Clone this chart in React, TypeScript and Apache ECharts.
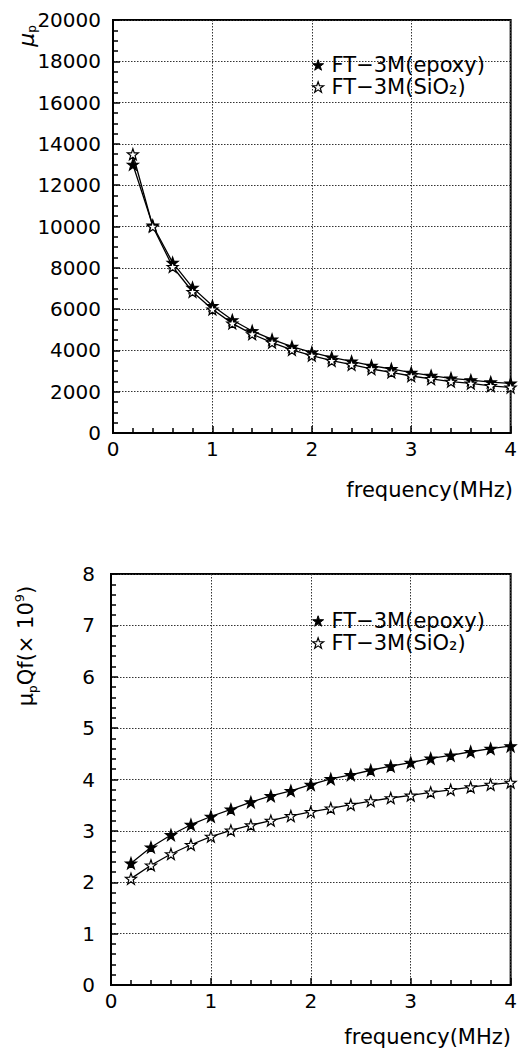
import React, { useEffect, useRef } from "react";
import * as echarts from "echarts";

const freq = [0.2, 0.4, 0.6, 0.8, 1.0, 1.2, 1.4, 1.6, 1.8, 2.0, 2.2, 2.4, 2.6, 2.8, 3.0, 3.2, 3.4, 3.6, 3.8, 4.0];
const muEpoxy = [13000, 10050, 8250, 7040, 6160, 5470, 4940, 4530, 4180, 3900, 3660, 3470, 3260, 3100, 2920, 2780, 2650, 2560, 2460, 2400];
const muSiO2 = [13500, 10000, 8050, 6840, 5990, 5310, 4790, 4380, 4030, 3750, 3500, 3310, 3100, 2940, 2760, 2620, 2490, 2400, 2280, 2210];
const qfEpoxy = [2.37, 2.68, 2.92, 3.12, 3.28, 3.42, 3.56, 3.68, 3.78, 3.9, 4.01, 4.09, 4.18, 4.26, 4.33, 4.41, 4.47, 4.54, 4.6, 4.65];
const qfSiO2 = [2.07, 2.33, 2.55, 2.73, 2.89, 3.01, 3.11, 3.2, 3.29, 3.37, 3.44, 3.51, 3.58, 3.64, 3.69, 3.75, 3.8, 3.85, 3.9, 3.94];

const nameEpoxy = "FT\u22123M(epoxy)";
const nameSiO2 = "FT\u22123M(SiO\u2082)";
const xTitle = "frequency(MHz)";

const STAR =
  "path://M0,-10L2.35,-3.24L9.51,-3.09L3.8,1.24L5.88,8.09L0,4L-5.88,8.09L-3.8,1.24L-9.51,-3.09L-2.35,-3.24Z";

const FONT = "DejaVu Sans";

function pairs(ys: number[]) {
  return freq.map((f, i) => [f, ys[i]]);
}

function xAxisCfg(gridIndex: number) {
  return {
    type: "value",
    gridIndex,
    min: 0,
    max: 4,
    interval: 1,
    axisLine: { show: true, lineStyle: { color: "#000", width: 2 } },
    axisTick: { show: true, inside: true, length: 7, lineStyle: { color: "#000", width: 1.5 } },
    minorTick: { show: true, splitNumber: 5, length: 5, lineStyle: { color: "#000", width: 1.5 } },
    splitLine: { show: true, lineStyle: { color: "#333", width: 1, type: [1.5, 1.5] } },
    axisLabel: { color: "#000", fontSize: 20, fontFamily: FONT, margin: 6, formatter: (v: number) => String(v) },
  };
}

function yAxisCfg(gridIndex: number, max: number, interval: number, minorSplit: number, margin: number) {
  return {
    type: "value",
    gridIndex,
    min: 0,
    max,
    interval,
    axisLine: { show: true, lineStyle: { color: "#000", width: 2 } },
    axisTick: { show: true, inside: true, length: 7, lineStyle: { color: "#000", width: 1.5 } },
    minorTick: { show: true, splitNumber: minorSplit, length: 5, lineStyle: { color: "#000", width: 1.5 } },
    splitLine: { show: true, lineStyle: { color: "#333", width: 1, type: [1.5, 1.5] } },
    axisLabel: { color: "#000", fontSize: 20, fontFamily: FONT, margin, formatter: (v: number) => String(v) },
  };
}

function seriesCfg(name: string, ys: number[], filled: boolean, idx: number) {
  return {
    type: "line",
    name,
    xAxisIndex: idx,
    yAxisIndex: idx,
    data: pairs(ys),
    symbol: STAR,
    symbolSize: 11,
    showAllSymbol: true,
    lineStyle: { color: "#000", width: 1.3 },
    itemStyle: { color: filled ? "#000" : "#fff", borderColor: "#000", borderWidth: 1.2 },
    z: 3,
  };
}

function legendCfg(top: number) {
  return {
    orient: "vertical",
    left: 307,
    top,
    itemWidth: 11,
    itemHeight: 11,
    itemGap: 0,
    icon: STAR,
    selectedMode: false,
    textStyle: { color: "#000", fontSize: 21, fontFamily: FONT, lineHeight: 22, padding: [0, 0, 0, 3] },
    data: [
      { name: nameEpoxy, itemStyle: { color: "#000", borderColor: "#000", borderWidth: 1 } },
      { name: nameSiO2, itemStyle: { color: "#fff", borderColor: "#000", borderWidth: 1.2 } },
    ],
  };
}

export default function App() {
  const ref = useRef<HTMLDivElement>(null);
  useEffect(() => {
    document.body.style.margin = "0";
    if (!ref.current) return;
    const chart = echarts.init(ref.current, null, { renderer: "svg" });
    chart.setOption({
      animation: false,
      backgroundColor: "#fff",
      grid: [
        { left: 113, top: 20, width: 400, height: 413, show: true, borderColor: "#000", borderWidth: 2 },
        { left: 111, top: 574, width: 401, height: 411, show: true, borderColor: "#000", borderWidth: 2 },
      ],
      xAxis: [xAxisCfg(0), xAxisCfg(1)],
      yAxis: [yAxisCfg(0, 20000, 2000, 4, 12), yAxisCfg(1, 8, 1, 5, 16)],
      legend: [legendCfg(49), legendCfg(605)],
      series: [
        seriesCfg(nameEpoxy, muEpoxy, true, 0),
        seriesCfg(nameSiO2, muSiO2, false, 0),
        seriesCfg(nameEpoxy, qfEpoxy, true, 1),
        seriesCfg(nameSiO2, qfSiO2, false, 1),
      ],
      graphic: [
        {
          type: "text",
          x: 513,
          y: 490,
          style: { text: xTitle, align: "right", verticalAlign: "middle", fontSize: 21, fontFamily: FONT, fill: "#000" },
        },
        {
          type: "text",
          x: 511,
          y: 1037,
          style: { text: xTitle, align: "right", verticalAlign: "middle", fontSize: 21, fontFamily: FONT, fill: "#000" },
        },
        {
          type: "text",
          x: 26,
          y: 36,
          rotation: Math.PI / 2,
          style: {
            text: "{a|\u03bc}{s|p}",
            align: "center",
            verticalAlign: "middle",
            fill: "#000",
            rich: {
              a: { fontSize: 22, fontFamily: FONT, fontStyle: "italic", lineHeight: 24, verticalAlign: "middle", fill: "#000" },
              s: { fontSize: 12, fontFamily: FONT, lineHeight: 24, verticalAlign: "bottom", fill: "#000" },
            },
          },
        },
        {
          type: "text",
          x: 26,
          y: 646,
          rotation: Math.PI / 2,
          style: {
            text: "{a|\u03bc}{s|p}{a|Qf(\u00d7 10}{u|9}{a|)}",
            align: "center",
            verticalAlign: "middle",
            fill: "#000",
            rich: {
              a: { fontSize: 21, fontFamily: FONT, lineHeight: 26, verticalAlign: "middle", fill: "#000" },
              s: { fontSize: 12, fontFamily: FONT, lineHeight: 26, verticalAlign: "bottom", fill: "#000" },
              u: { fontSize: 13, fontFamily: FONT, lineHeight: 26, verticalAlign: "top", fill: "#000" },
            },
          },
        },
      ],
    });
    return () => chart.dispose();
  }, []);
  return <div ref={ref} style={{ width: 520, height: 1055 }} />;
}
